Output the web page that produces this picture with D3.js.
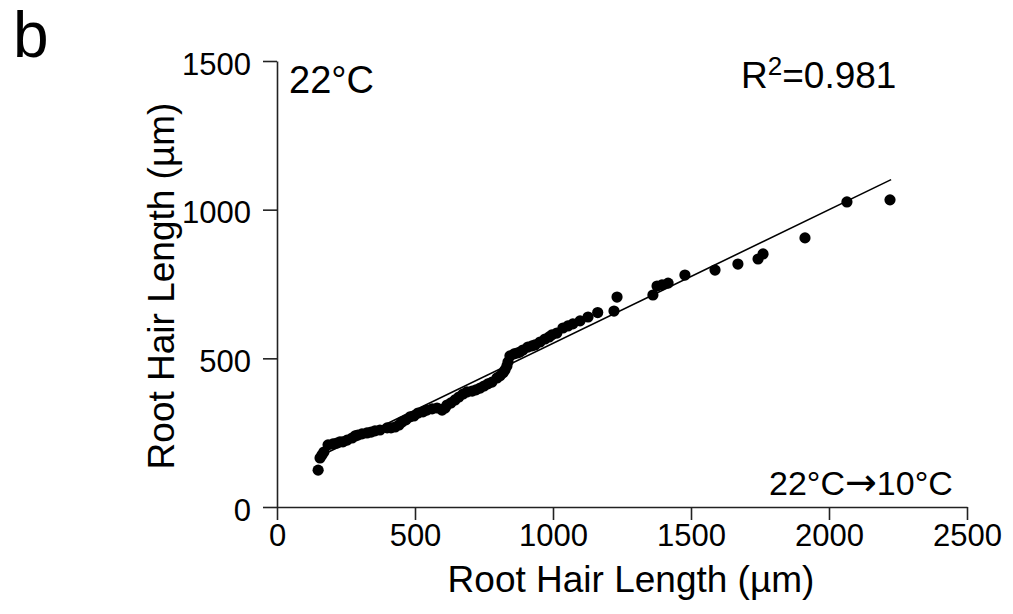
<!DOCTYPE html>
<html>
<head>
<meta charset="utf-8">
<script src="https://cdn.jsdelivr.net/npm/d3@7"></script>
<style>
  html, body { margin: 0; padding: 0; background: #fff; }
  svg text { font-family: "Liberation Sans", Arial, sans-serif; fill: #000; }
</style>
</head>
<body>
<div id="chart"></div>
<script>
// root hair length at 22°C (x) vs 22°C→10°C (y), µm
const hairX = [149, 156, 163, 170, 185, 203, 217, 228, 239, 254, 272, 283, 293, 308, 326, 341, 355, 373,
  399, 413, 428, 442, 453, 467, 482, 496, 511, 529, 543, 562, 580, 598, 609, 616, 630, 645, 659, 674,
  688, 707, 721, 736, 750, 764, 779, 797, 808, 819, 826, 833, 837, 844, 859, 870, 880, 891, 909, 924,
  935, 953, 971, 986, 996, 1014, 1036, 1054, 1072, 1098, 1127, 1162, 1221, 1232, 1362, 1377, 1395,
  1417, 1478, 1587, 1670, 1743, 1761, 1913, 2065, 2221];
const hairY = [124, 165, 175, 185, 209, 212, 215, 219, 219, 225, 232, 239, 242, 246, 249, 252, 256, 259,
  266, 266, 269, 276, 286, 293, 303, 306, 316, 320, 326, 330, 333, 326, 333, 343, 350, 360, 370, 380,
  387, 390, 394, 400, 407, 414, 420, 434, 441, 451, 461, 474, 488, 508, 515, 518, 521, 528, 538, 542,
  545, 555, 565, 572, 579, 585, 602, 609, 616, 626, 639, 654, 659, 706, 713, 743, 747,
  753, 780, 797, 817, 834, 851, 905, 1026, 1033];

const fitSlope = 0.4495;
const fitIntercept = 101;
const fitRange = [149, 2225];

const xTicks = [0, 500, 1000, 1500, 2000, 2500];
const yTicks = [0, 500, 1000, 1500];

const width = 1013, height = 614;

const svg = d3.select("#chart").append("svg")
  .attr("width", width)
  .attr("height", height);

const x = d3.scaleLinear().domain([0, 2500]).range([277, 967]);
const y = d3.scaleLinear().domain([0, 1500]).range([507, 61]);

// axes
const xAxis = svg.append("g")
  .attr("transform", `translate(0,${y(0)})`)
  .call(d3.axisBottom(x).tickValues(xTicks).tickSize(13).tickSizeOuter(0).tickPadding(4).tickFormat(d3.format("d")));
const yAxis = svg.append("g")
  .attr("transform", `translate(${x(0)},0)`)
  .call(d3.axisLeft(y).tickValues(yTicks).tickSize(14).tickSizeOuter(0).tickPadding(12).tickFormat(d3.format("d")));

[xAxis, yAxis].forEach(a => {
  a.selectAll("path, line").attr("stroke", "#222").attr("stroke-width", 1.6);
  a.selectAll("text").style("font-size", "31px").attr("fill", "#000");
});
xAxis.selectAll("text").attr("dy", "0.72em");
yAxis.selectAll("text").attr("dy", "0.42em");

// fit line
svg.append("line")
  .attr("x1", x(fitRange[0]))
  .attr("y1", y(fitSlope * fitRange[0] + fitIntercept))
  .attr("x2", x(fitRange[1]))
  .attr("y2", y(fitSlope * fitRange[1] + fitIntercept))
  .attr("stroke", "#000")
  .attr("stroke-width", 1.6);

// points
svg.append("g").selectAll("circle")
  .data(hairX.map((d, i) => [d, hairY[i]]))
  .join("circle")
  .attr("cx", d => x(d[0]))
  .attr("cy", d => y(d[1]))
  .attr("r", 5.6)
  .attr("fill", "#000");

// labels
svg.append("text")
  .attr("x", 631).attr("y", 592)
  .attr("text-anchor", "middle")
  .style("font-size", "37px")
  .text("Root Hair Length (µm)");

svg.append("text")
  .attr("transform", "translate(174,286) rotate(-90)")
  .attr("text-anchor", "middle")
  .style("font-size", "37px")
  .text("Root Hair Length (µm)");

svg.append("text")
  .attr("x", 13).attr("y", 57)
  .style("font-size", "64px")
  .text("b");

svg.append("text")
  .attr("x", 289).attr("y", 93)
  .style("font-size", "38px")
  .text("22°C");

const r2 = svg.append("text")
  .attr("x", 741).attr("y", 88)
  .style("font-size", "37px");
r2.append("tspan").text("R");
r2.append("tspan").attr("dy", "-0.5em").style("font-size", "26px").text("2");
r2.append("tspan").attr("dy", "0.36em").text("=0.981");

const shift = svg.append("text")
  .attr("x", 769).attr("y", 495)
  .style("font-size", "34px");
shift.append("tspan").text("22°C");
shift.append("tspan").style("font-family", "'DejaVu Sans'").style("font-size", "38px").text("→");
shift.append("tspan").text("10°C");
</script>
</body>
</html>
